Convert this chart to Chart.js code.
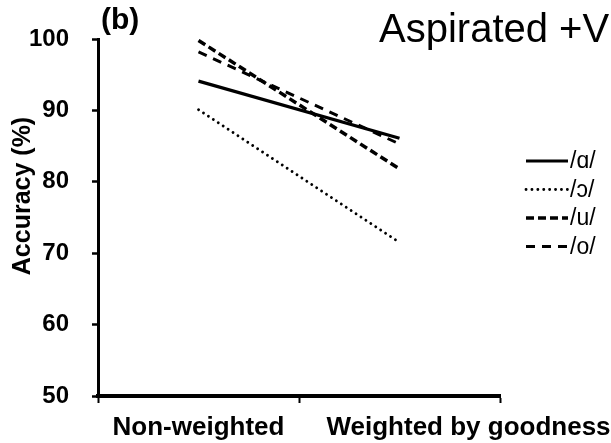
<!DOCTYPE html>
<html>
<head>
<meta charset="utf-8">
<script src="https://cdn.jsdelivr.net/npm/chart.js@4"></script>
<style>
  html, body { margin: 0; padding: 0; background: #fff; }
  #wrap { width: 611px; height: 443px; }
</style>
</head>
<body>
<div id="wrap"><canvas id="accuracyChart" width="611" height="443"></canvas></div>
<script>
const categories = ['Non-weighted', 'Weighted by goodness'];
const vowelLabels = ['/ɑ/', '/ɔ/', '/u/', '/o/'];
const aValues = [94.1, 86.1];
const openOValues = [90.1, 71.5];
const uValues = [99.8, 81.8];
const oValues = [98.2, 85.3];
const yTicks = [50, 60, 70, 80, 90, 100];

const FONT = '"Liberation Sans", Arial, "DejaVu Sans", sans-serif';

// page text that is not part of an axis: panel tag, heading, y title, categories, legend
const figureText = {
  id: 'figureText',
  afterDraw(chart) {
    const { ctx } = chart;
    const x = chart.scales.x;
    ctx.save();
    ctx.fillStyle = '#000';

    ctx.font = `bold 30px ${FONT}`;
    ctx.textAlign = 'left';
    ctx.textBaseline = 'alphabetic';
    ctx.fillText('(b)', 101, 29);

    ctx.font = `40px ${FONT}`;
    ctx.fillText('Aspirated +V', 379, 42);

    ctx.save();
    ctx.translate(23, 196);
    ctx.rotate(-Math.PI / 2);
    ctx.font = `bold 25px ${FONT}`;
    ctx.textAlign = 'center';
    ctx.textBaseline = 'middle';
    ctx.fillText('Accuracy (%)', 0, 0);
    ctx.restore();

    // the second category label sits right of its tick in the original
    const shift = [0, 69];
    ctx.font = `bold 26px ${FONT}`;
    ctx.textAlign = 'center';
    ctx.textBaseline = 'alphabetic';
    categories.forEach((c, i) => {
      ctx.fillText(c, x.getPixelForValue(i) + shift[i], 435);
    });

    ctx.font = `23px ${FONT}`;
    ctx.textAlign = 'left';
    ctx.textBaseline = 'middle';
    chart.data.datasets.forEach((ds, i) => {
      const y = 161 + i * 28.5;
      ctx.beginPath();
      ctx.lineWidth = ds.borderWidth;
      ctx.setLineDash(ds.borderDash || []);
      ctx.lineCap = ds.borderCapStyle || 'butt';
      ctx.strokeStyle = ds.borderColor;
      ctx.moveTo(526, y);
      ctx.lineTo(568, y);
      ctx.stroke();
      ctx.fillText(ds.label, 570, y + 1);
    });
    ctx.restore();
  }
};

new Chart(document.getElementById('accuracyChart'), {
  type: 'line',
  data: {
    labels: categories,
    datasets: [
      { label: vowelLabels[0], data: aValues, borderColor: '#000', borderWidth: 3.2, borderDash: [] },
      { label: vowelLabels[1], data: openOValues, borderColor: '#000', borderWidth: 2.8, borderDash: [0.1, 5.8], borderCapStyle: 'round' },
      { label: vowelLabels[2], data: uValues, borderColor: '#000', borderWidth: 3.5, borderDash: [8, 4] },
      { label: vowelLabels[3], data: oValues, borderColor: '#000', borderWidth: 3, borderDash: [9, 7] }
    ].map((ds) => ({ ...ds, pointRadius: 0, fill: false, tension: 0 }))
  },
  options: {
    responsive: false,
    animation: false,
    layout: { padding: { top: 39, right: 111, left: 0, bottom: 0 } },
    plugins: { legend: { display: false }, tooltip: { enabled: false } },
    scales: {
      x: {
        type: 'category',
        offset: true,
        afterFit: (scale) => { scale.height = 47; },
        grid: { offset: true, drawOnChartArea: false, tickLength: 7, tickWidth: 2, color: '#000' },
        border: { width: 4, color: '#000' },
        ticks: { display: false }
      },
      y: {
        min: 50,
        max: 100,
        afterFit: (scale) => { scale.width = 98; },
        afterBuildTicks: (scale) => { scale.ticks = yTicks.map((v) => ({ value: v })); },
        grid: { drawOnChartArea: false, tickLength: 6, tickWidth: 2.5, color: '#000' },
        border: { width: 3, color: '#000' },
        ticks: { color: '#000', padding: 23, font: { family: FONT, size: 24, weight: 'bold' } }
      }
    }
  },
  plugins: [figureText]
});
</script>
</body>
</html>
